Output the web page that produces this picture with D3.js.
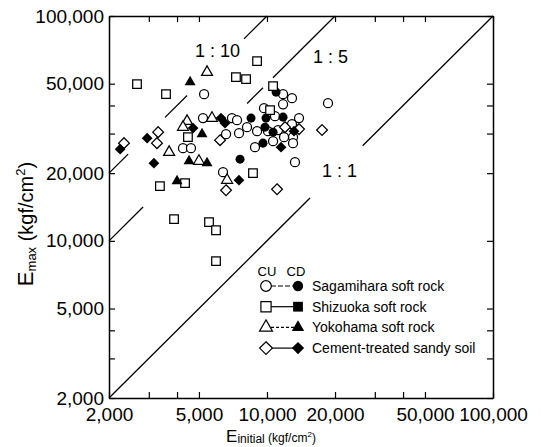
<!DOCTYPE html>
<html>
<head>
<meta charset="utf-8">
<script src="https://cdn.jsdelivr.net/npm/d3@7"></script>
<style>
body { margin: 0; background: #fff; }
svg { display: block; font-family: "Liberation Sans", Arial, Helvetica, sans-serif; }
</style>
</head>
<body>
<svg id="chart" width="541" height="447"></svg>
<script>
// [E_initial, E_max] in kgf/cm2
var sagamiharaCU = [[5270,44900],[11780,44900],[12900,43100],[11780,40500],[18620,40960],[9700,38900],
    [10850,35860],[13860,35140],[12900,33040],[5210,35140],[7000,35140],[7370,34400],[8160,32040],
    [7520,30120],[6590,29820],[9040,30740],[10100,30740],[11190,31100],[13040,28920],[11900,28920],
    [10640,27760],[8850,26100],[13040,27200],[13300,22380],[4250,25840],[4610,25840],[6390,20200]];
var sagamiharaCD = [[10970,45860],[8500,35140],[9900,35140],[11780,35500],[9800,32040],[10640,30440],
    [9600,27200],[7600,23080]];
var shizuokaCU = [[2660,49760],[3575,44920],[9040,62980],[7290,53460],[8080,52380],[10640,48760],
    [10320,38120],[4470,28920],[3360,17510],[4340,18050],[8670,20000],[3880,12490],[5540,12110],
    [5950,11150],[5950,8120]];
var shizuokaCD = [];
var yokohamaCU = [[5430,56260],[4430,34060],[4250,32040],[5710,35140],[3690,24800],[5000,22620],[6660,18620]];
var yokohamaCD = [[4570,50800],[5160,29820],[4520,22620],[5430,22160],[4000,18430]];
var cementCU = [[2330,27200],[3300,30440],[3260,27200],[6200,28040],[6590,16800],[11080,16970],
    [12020,32040],[13860,31400],[17520,31100]];
var cementCD = [[2240,25580],[2950,28620],[3160,22160],[4710,31720],[6260,35140],[6520,33380],
    [7520,18620],[11540,26100],[13170,30740]];

var seriesNames = ["Sagamihara soft rock", "Shizuoka soft rock", "Yokohama soft rock", "Cement-treated sandy soil"];

// ratio lines E_max = r * E_initial, drawn only over these E_initial ranges
var ratios = [10, 5, 1];
var ratioSegments = [
    [[2000,2430],[3540,4430],[7910,10000]],
    [[2000,2830],[8170,9600],[10630,20000]],
    [[2000,15500],[26500,100000]]
];

var tickValues = [2000,3000,4000,5000,10000,20000,30000,40000,50000,100000];
var labelValues = [2000,5000,10000,20000,50000,100000];

var margin = {top: 16, right: 48, bottom: 49, left: 109};
var svg = d3.select("#chart");
var width = +svg.attr("width") - margin.left - margin.right;
var height = +svg.attr("height") - margin.top - margin.bottom;

var x = d3.scaleLog().domain([2000, 100000]).range([0, width]);
var y = d3.scaleLog().domain([2000, 100000]).range([height, 0]);

var g = svg.append("g").attr("transform", "translate(" + margin.left + "," + margin.top + ")");

var fmt = d3.format(",");
var labelFmt = function(d) { return labelValues.indexOf(d) >= 0 ? fmt(d) : ""; };

// axes, ticks pointing inward
function styleAxis(sel) {
    sel.selectAll("path.domain").attr("stroke", "#000").attr("stroke-width", 1.5);
    sel.selectAll(".tick line").attr("stroke", "#000").attr("stroke-width", 1.2);
    sel.selectAll(".tick text").attr("fill", "#000").style("font-size", "19px");
}
g.append("g").attr("transform", "translate(0," + height + ")")
    .call(d3.axisBottom(x).tickValues(tickValues).tickFormat(labelFmt).tickSizeInner(-6).tickSizeOuter(0).tickPadding(10))
    .call(styleAxis);
g.append("g")
    .call(d3.axisLeft(y).tickValues(tickValues).tickFormat(labelFmt).tickSizeInner(-6).tickSizeOuter(0).tickPadding(5))
    .call(styleAxis);
g.append("g")
    .call(d3.axisTop(x).tickValues(tickValues).tickFormat("").tickSizeInner(-6).tickSizeOuter(0))
    .call(styleAxis);
g.append("g").attr("transform", "translate(" + width + ",0)")
    .call(d3.axisRight(y).tickValues(tickValues).tickFormat("").tickSizeInner(-6).tickSizeOuter(0))
    .call(styleAxis);

// ratio lines
ratios.forEach(function(r, i) {
    g.selectAll(null).data(ratioSegments[i]).enter().append("line")
        .attr("x1", function(s) { return x(s[0]); })
        .attr("y1", function(s) { return y(s[0] * r); })
        .attr("x2", function(s) { return x(s[1]); })
        .attr("y2", function(s) { return y(s[1] * r); })
        .attr("stroke", "#000").attr("stroke-width", 1.3);
});
var ratioLabelPos = [[86, 41], [204, 47], [213, 161]];
g.selectAll(null).data(ratios).enter().append("text")
    .attr("x", function(d, i) { return ratioLabelPos[i][0]; })
    .attr("y", function(d, i) { return ratioLabelPos[i][1]; })
    .style("font-size", "18px")
    .text(function(d) { return "1 : " + d; });

// markers
var diamond = {
    draw: function(ctx, size) {
        var r = Math.sqrt(size / 2);
        ctx.moveTo(0, -r); ctx.lineTo(r, 0); ctx.lineTo(0, r); ctx.lineTo(-r, 0); ctx.closePath();
    }
};
var shapes = [
    {type: d3.symbolCircle, size: 64, dash: "5,2"},
    {type: d3.symbolSquare, size: 74, dash: null},
    {type: d3.symbolTriangle, size: 52, dash: "3,2"},
    {type: diamond, size: 58, dash: null}
];
var seriesData = [[sagamiharaCU, sagamiharaCD], [shizuokaCU, shizuokaCD], [yokohamaCU, yokohamaCD], [cementCU, cementCD]];

seriesData.forEach(function(pair, i) {
    var sym = d3.symbol().type(shapes[i].type).size(shapes[i].size);
    g.selectAll(null).data(pair[0]).enter().append("path")
        .attr("d", sym)
        .attr("transform", function(d) { return "translate(" + x(d[0]) + "," + y(d[1]) + ")"; })
        .attr("fill", "#fff").attr("stroke", "#000").attr("stroke-width", 1.25);
    g.selectAll(null).data(pair[1]).enter().append("path")
        .attr("d", sym)
        .attr("transform", function(d) { return "translate(" + x(d[0]) + "," + y(d[1]) + ")"; })
        .attr("fill", "#000");
});

// legend
var legend = svg.append("g").attr("transform", "translate(266,286)");
legend.append("text").attr("x", 1).attr("y", -10).attr("text-anchor", "middle")
    .style("font-family", "'Liberation Sans Narrow', 'Liberation Sans', sans-serif").style("font-size", "13px").text("CU");
legend.append("text").attr("x", 30).attr("y", -10).attr("text-anchor", "middle")
    .style("font-family", "'Liberation Sans Narrow', 'Liberation Sans', sans-serif").style("font-size", "13px").text("CD");
var rows = legend.selectAll("g.row").data(seriesNames).enter().append("g")
    .attr("class", "row")
    .attr("transform", function(d, i) { return "translate(0," + (i * 20.7) + ")"; });
rows.append("line").attr("x1", 5).attr("x2", 28).attr("y1", 0).attr("y2", 0)
    .attr("stroke", "#000").attr("stroke-width", 1.2)
    .attr("stroke-dasharray", function(d, i) { return shapes[i].dash; });
rows.append("path")
    .attr("d", function(d, i) { return d3.symbol().type(shapes[i].type).size(shapes[i].size * 1.4)(); })
    .attr("fill", "#fff").attr("stroke", "#000").attr("stroke-width", 1.2);
rows.append("path")
    .attr("transform", "translate(32,0)")
    .attr("d", function(d, i) { return d3.symbol().type(shapes[i].type).size(shapes[i].size * 1.3)(); })
    .attr("fill", "#000");
rows.append("text").attr("x", 46).attr("y", 5).style("font-size", "14px").text(String);

// axis titles
var xt = svg.append("text").attr("x", 271).attr("y", 442).attr("text-anchor", "middle");
xt.append("tspan").style("font-size", "17px").text("E");
xt.append("tspan").style("font-size", "12px").attr("dy", 1).text("initial");
xt.append("tspan").style("font-size", "12px").attr("dy", -1).text(" (kgf/cm");
xt.append("tspan").style("font-size", "8px").attr("dy", -5).text("2");
xt.append("tspan").style("font-size", "12px").attr("dy", 5).text(")");

var yt = svg.append("text").attr("transform", "translate(33,224) rotate(-90)").attr("text-anchor", "middle");
yt.append("tspan").style("font-size", "22px").text("E");
yt.append("tspan").style("font-size", "13px").attr("dy", 3).text("max");
yt.append("tspan").style("font-size", "20px").attr("dy", -3).text(" (kgf/cm");
yt.append("tspan").style("font-size", "13px").attr("dy", -8).text("2");
yt.append("tspan").style("font-size", "20px").attr("dy", 8).text(")");
</script>
</body>
</html>
